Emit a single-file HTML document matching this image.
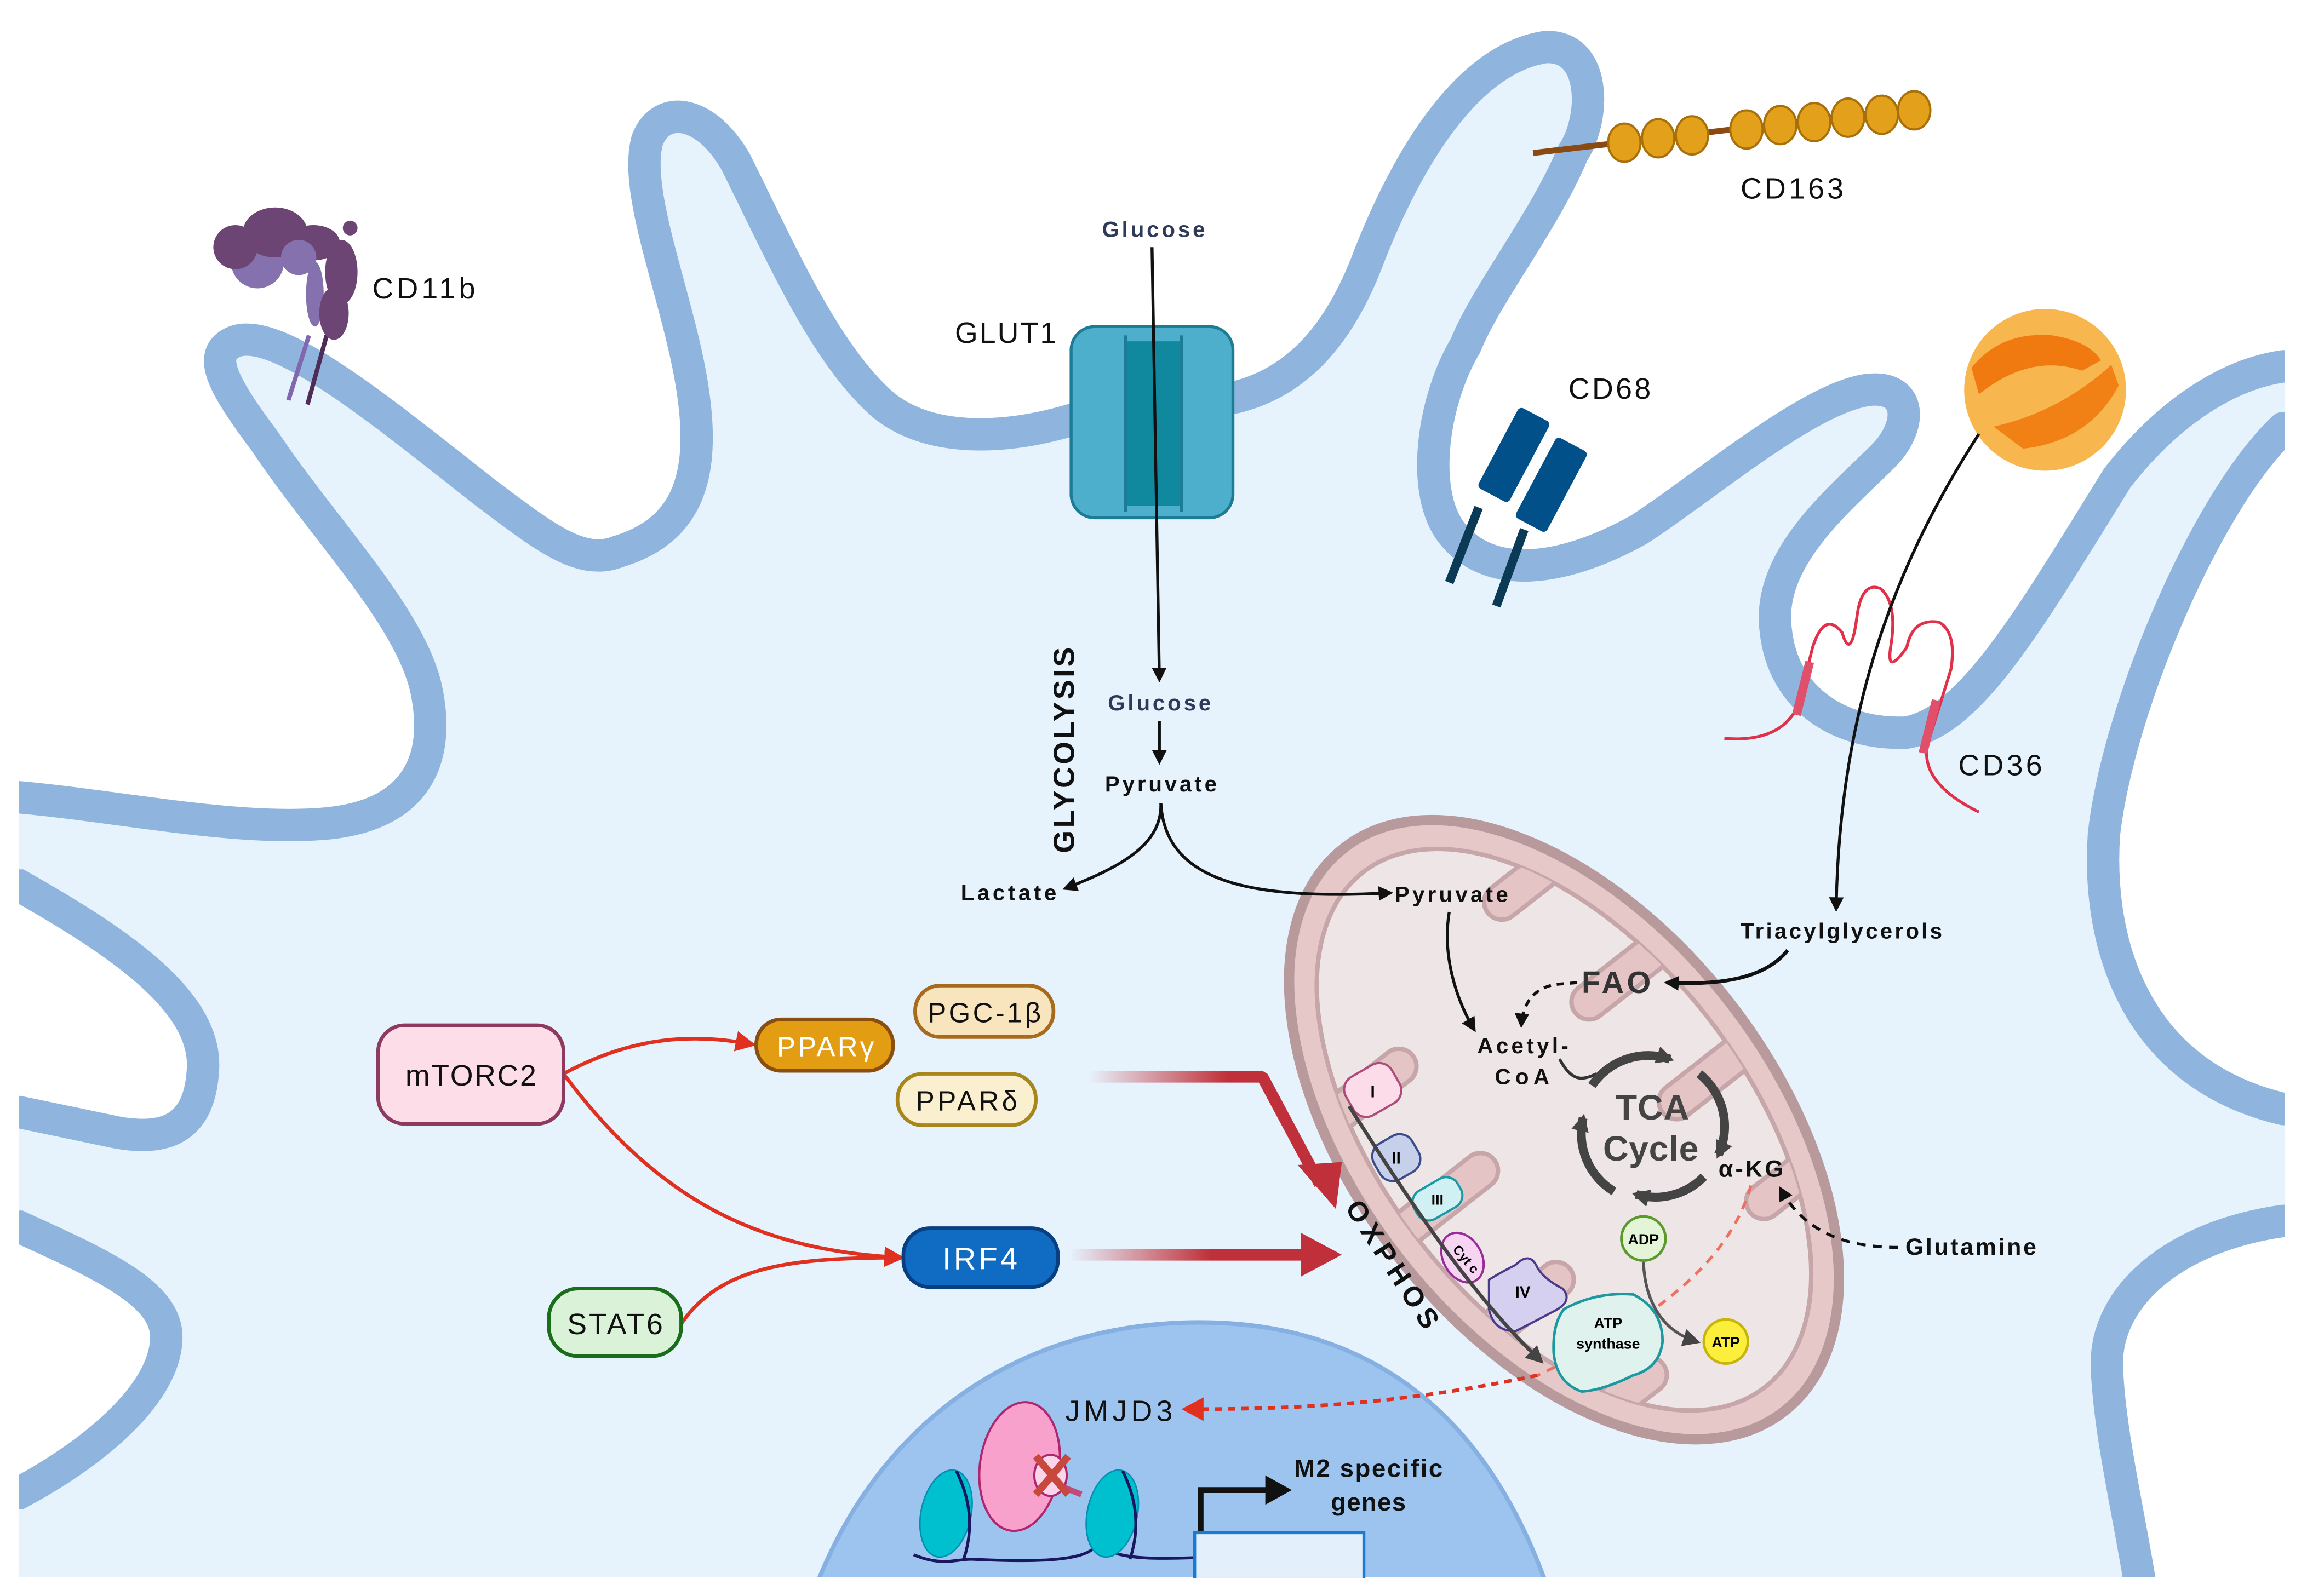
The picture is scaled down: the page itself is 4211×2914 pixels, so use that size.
<!DOCTYPE html>
<html><head><meta charset="utf-8"><style>html,body{margin:0;padding:0;background:#fff}svg{display:block}</style></head>
<body>
<svg width="4211" height="2914" viewBox="0 0 1568 1085" xmlns="http://www.w3.org/2000/svg" font-family="'Liberation Sans', sans-serif">
<defs>
<marker id="ab" markerWidth="10" markerHeight="10" refX="8" refY="5" orient="auto" markerUnits="userSpaceOnUse"><path d="M0,0 L10,5 L0,10 Z" fill="#111"/></marker>
<marker id="ag" markerWidth="12" markerHeight="12" refX="9" refY="6" orient="auto" markerUnits="userSpaceOnUse"><path d="M0,0 L12,6 L0,12 Z" fill="#444"/></marker>
<marker id="ar" markerWidth="14" markerHeight="14" refX="11" refY="7" orient="auto" markerUnits="userSpaceOnUse"><path d="M0,0 L14,7 L0,14 Z" fill="#e03020"/></marker>
<linearGradient id="g1" x1="0" x2="1" y1="0" y2="0"><stop offset="0" stop-color="#c0303a" stop-opacity="0"/><stop offset="0.6" stop-color="#c0303a"/></linearGradient>
<clipPath id="mc"><ellipse cx="0" cy="0" rx="222" ry="124"/></clipPath>
</defs>
<rect x="0" y="0" width="1568" height="1085" fill="#e6f3fd"/>
<path d="M-30,542 L13,542 C80,548 160,565 220,560 C280,555 300,520 290,470 C280,420 220,360 180,300 C150,260 140,240 160,232 C190,222 260,280 330,335 C370,365 395,385 420,375 C470,360 480,320 470,260 C460,200 430,130 440,95 C450,70 480,75 500,110 C530,170 560,240 600,275 C630,300 680,300 730,285 L840,270 C880,260 910,230 931,173 C960,100 1000,40 1050,32 C1085,30 1085,80 1069,104 C1050,150 1010,200 996,235 C975,270 965,330 985,360 C1010,395 1060,390 1114,360 C1160,330 1230,270 1270,265 C1300,262 1300,290 1280,310 C1250,340 1200,380 1207,429 C1212,475 1250,500 1296,498 C1340,490 1380,420 1439,325 C1470,285 1510,255 1552,249 L1620,249 L1620,291 L1552,291 C1500,340 1440,480 1430,567 C1425,640 1450,730 1552,754 L1620,754 L1620,-50 L-30,-50 Z" fill="#fff" stroke="#8fb4de" stroke-width="22" stroke-linejoin="round"/>
<path d="M1620,830 L1552,830 C1480,840 1430,880 1432,930 C1434,980 1450,1040 1458,1100 L1620,1100 Z" fill="#fff" stroke="#8fb4de" stroke-width="22"/>
<path d="M-30,602 L13,602 C80,640 140,680 138,726 C136,770 110,775 80,770 L13,756 L-30,756 Z" fill="#fff" stroke="#8fb4de" stroke-width="22"/>
<path d="M-30,834 L13,834 C70,860 115,880 113,911 C111,950 60,990 13,1015 L-30,1015 Z" fill="#fff" stroke="#8fb4de" stroke-width="22"/>
<path d="M554,1080 C600,960 700,899 815,899 C930,899 1010,960 1052,1080 Z" fill="#9cc4ef" stroke="#86b0e2" stroke-width="3"/>
<rect x="0" y="1072" width="1568" height="20" fill="#fff"/>
<rect x="0" y="0" width="13" height="1085" fill="#fff"/>
<rect x="1553" y="0" width="20" height="1085" fill="#fff"/>

<!-- CD11b -->
<g>
<line x1="210" y1="228" x2="196" y2="272" stroke="#7f68b0" stroke-width="3"/>
<line x1="222" y1="228" x2="209" y2="275" stroke="#4e2c5a" stroke-width="3"/>
<circle cx="175" cy="178" r="18" fill="#8571ae"/>
<circle cx="160" cy="168" r="15" fill="#6c4574"/>
<ellipse cx="187" cy="158" rx="22" ry="17" fill="#6c4574"/>
<ellipse cx="213" cy="165" rx="18" ry="12" fill="#6c4574"/>
<circle cx="203" cy="175" r="12" fill="#8571ae"/>
<ellipse cx="214" cy="200" rx="6" ry="22" fill="#8571ae"/>
<ellipse cx="232" cy="185" rx="11" ry="22" fill="#6c4574"/>
<ellipse cx="227" cy="213" rx="10" ry="18" fill="#6c4574"/>
<circle cx="238" cy="155" r="5" fill="#6c4574"/>
</g>
<text x="253" y="203" font-size="20" fill="#111" textLength="70">CD11b</text>
<text x="649" y="233" font-size="20" fill="#111" textLength="69">GLUT1</text>
<rect x="728" y="222" width="110" height="130" rx="16" fill="#4dafcc" stroke="#1d7c95" stroke-width="2"/>
<rect x="765" y="232" width="38" height="112" fill="#10899e"/>
<line x1="765" y1="228" x2="765" y2="348" stroke="#1d7c95" stroke-width="2"/>
<line x1="803" y1="228" x2="803" y2="348" stroke="#1d7c95" stroke-width="2"/>
<line x1="1042" y1="104" x2="1312" y2="72" stroke="#8b4a12" stroke-width="4"/>
<g fill="#e3a01a" stroke="#a8700a" stroke-width="1.5">
<ellipse cx="1104" cy="97" rx="11" ry="13"/><ellipse cx="1127" cy="94" rx="11" ry="13"/><ellipse cx="1150" cy="92" rx="11" ry="13"/>
<ellipse cx="1187" cy="88" rx="11" ry="13"/><ellipse cx="1210" cy="85" rx="11" ry="13"/><ellipse cx="1233" cy="83" rx="11" ry="13"/><ellipse cx="1256" cy="80" rx="11" ry="13"/><ellipse cx="1279" cy="78" rx="11" ry="13"/><ellipse cx="1301" cy="75" rx="11" ry="13"/>
</g>
<text x="1183" y="135" font-size="20" fill="#111" textLength="70">CD163</text>
<text x="1066" y="271" font-size="20" fill="#111" textLength="56">CD68</text>
<g transform="rotate(28 1030 320)">
<rect x="1012" y="280" width="24" height="62" rx="3" fill="#02508a"/>
<rect x="1044" y="286" width="24" height="62" rx="3" fill="#02508a"/>
</g>
<line x1="1005" y1="345" x2="985" y2="396" stroke="#0a3a55" stroke-width="6"/>
<line x1="1036" y1="360" x2="1017" y2="412" stroke="#0a3a55" stroke-width="6"/>
<circle cx="1390" cy="265" r="55" fill="#f7b64e"/>
<path d="M1340,250 Q1360,225 1395,228 Q1420,232 1428,245 L1415,252 Q1380,240 1345,268 Z" fill="#f07a10"/>
<path d="M1355,290 Q1400,280 1435,248 L1440,262 Q1420,300 1375,305 Z" fill="#f07a10" opacity="0.9"/>
<g fill="none" stroke="#e0304a" stroke-width="2">
<path d="M1172,502 Q1210,505 1222,480 L1232,440 Q1240,415 1252,430 Q1258,450 1262,420 Q1265,395 1278,400 Q1290,410 1285,440 Q1282,460 1296,440 Q1300,420 1318,423 Q1330,430 1326,455 L1312,500 Q1300,530 1345,552"/>
</g>
<line x1="1230" y1="450" x2="1221" y2="486" stroke="#e0506a" stroke-width="6"/>
<line x1="1316" y1="476" x2="1307" y2="512" stroke="#e0506a" stroke-width="6"/>
<text x="1331" y="527" font-size="20" fill="#111" textLength="57">CD36</text>

<text x="749" y="161" font-size="15" font-weight="bold" fill="#2f3a5a" textLength="70">Glucose</text>
<line x1="783" y1="168" x2="788" y2="462" stroke="#111" stroke-width="2" marker-end="url(#ab)"/>
<text x="753" y="483" font-size="15" font-weight="bold" fill="#2f3a5a" textLength="70">Glucose</text>
<line x1="788" y1="490" x2="788" y2="518" stroke="#111" stroke-width="2" marker-end="url(#ab)"/>
<text x="751" y="538" font-size="15" font-weight="bold" fill="#111" textLength="76">Pyruvate</text>
<text transform="translate(730 510) rotate(-90)" text-anchor="middle" font-size="20" font-weight="bold" fill="#111" textLength="140">GLYCOLYSIS</text>
<path d="M789,546 C790,575 760,590 724,604" fill="none" stroke="#111" stroke-width="2" marker-end="url(#ab)"/>
<text x="653" y="612" font-size="15" font-weight="bold" fill="#111" textLength="65">Lactate</text>

<!-- mitochondrion -->
<g transform="translate(1063 768) rotate(52)">
<ellipse cx="0" cy="0" rx="243" ry="142" fill="#e6c8c8" stroke="#b89a9c" stroke-width="7"/>
<ellipse cx="0" cy="0" rx="222" ry="124" fill="#eee5e7" stroke="#c6a6a8" stroke-width="3"/>
<g clip-path="url(#mc)" fill="#e4c4c5" stroke="#c6a6a8" stroke-width="3">
<rect x="-160" y="-150" width="24" height="100" rx="12"/>
<rect x="-70" y="-150" width="24" height="95" rx="12"/>
<rect x="20" y="-150" width="24" height="90" rx="12"/>
<rect x="110" y="-150" width="24" height="85" rx="12"/>
<rect x="-115" y="50" width="24" height="100" rx="12"/>
<rect x="-25" y="50" width="24" height="100" rx="12"/>
<rect x="65" y="55" width="24" height="95" rx="12"/>
<rect x="155" y="45" width="24" height="90" rx="12"/>
</g>
</g>
<path d="M789,546 C792,600 850,612 945,607" fill="none" stroke="#111" stroke-width="2" marker-end="url(#ab)"/>
<text x="948" y="613" font-size="15" font-weight="bold" fill="#111" textLength="77">Pyruvate</text>
<path d="M985,620 C980,650 990,680 1002,700" fill="none" stroke="#111" stroke-width="2" marker-end="url(#ab)"/>
<text x="1183" y="638" font-size="15" font-weight="bold" fill="#111" textLength="137">Triacylglycerols</text>
<path d="M1345,295 C1290,380 1250,480 1248,618" fill="none" stroke="#111" stroke-width="2" marker-end="url(#ab)"/>
<path d="M1215,646 C1200,665 1170,670 1133,668" fill="none" stroke="#111" stroke-width="2.5" marker-end="url(#ab)"/>
<text x="1075" y="675" font-size="21" font-weight="bold" fill="#333" textLength="47">FAO</text>
<path d="M1072,668 L1060,669 C1045,670 1035,680 1034,697" fill="none" stroke="#111" stroke-width="2" stroke-dasharray="5,4" marker-end="url(#ab)"/>
<text x="1004" y="716" font-size="15" font-weight="bold" fill="#111" textLength="62">Acetyl-</text>
<text x="1016" y="737" font-size="15" font-weight="bold" fill="#111" textLength="37">CoA</text>
<path d="M1060,720 C1068,735 1075,735 1085,730" fill="none" stroke="#333" stroke-width="2"/>
<g fill="none" stroke="#444" stroke-width="6">
<path d="M1082,738 A46,46 0 0 1 1135,720" marker-end="url(#ag)"/>
<path d="M1155,730 A46,46 0 0 1 1168,785" marker-end="url(#ag)"/>
<path d="M1158,800 A46,46 0 0 1 1112,812" marker-end="url(#ag)"/>
<path d="M1097,810 A46,46 0 0 1 1076,760" marker-end="url(#ag)"/>
</g>
<text x="1123" y="761" text-anchor="middle" font-size="24" font-weight="bold" fill="#444" textLength="50">TCA</text>
<text x="1122" y="789" text-anchor="middle" font-size="24" font-weight="bold" fill="#444" textLength="65">Cycle</text>
<text x="1168" y="800" font-size="16" font-weight="bold" fill="#111" textLength="44">α-KG</text>
<path d="M1290,848 C1250,848 1225,835 1210,808" fill="none" stroke="#111" stroke-width="2" stroke-dasharray="6,5" marker-end="url(#ab)"/>
<text x="1295" y="853" font-size="16" font-weight="bold" fill="#111" textLength="89">Glutamine</text>
<path d="M1190,806 C1175,860 1120,900 1045,935" fill="none" stroke="#f07060" stroke-width="2" stroke-dasharray="6,5"/>
<g transform="rotate(-30 933 741)"><rect x="915" y="726" width="36" height="30" rx="10" fill="#fcdce8" stroke="#b04a7a" stroke-width="1.5"/></g>
<text x="933" y="746" text-anchor="middle" font-size="11" font-weight="bold">I</text>
<g transform="rotate(-30 949 787)"><rect x="934" y="773" width="30" height="28" rx="10" fill="#c6d0ea" stroke="#3a4c8a" stroke-width="1.5"/></g>
<text x="949" y="791" text-anchor="middle" font-size="11" font-weight="bold">II</text>
<g transform="rotate(-30 977 815)"><rect x="960" y="804" width="34" height="22" rx="9" fill="#d0f0f4" stroke="#169aa8" stroke-width="1.5"/></g>
<text x="977" y="819" text-anchor="middle" font-size="10" font-weight="bold">III</text>
<ellipse cx="994" cy="855" rx="13" ry="18" transform="rotate(-30 994 855)" fill="#f6d4f2" stroke="#9a2a9a" stroke-width="1.5"/>
<text transform="translate(994 858) rotate(50)" text-anchor="middle" font-size="9" font-weight="bold">Cyt c</text>
<path d="M1012,870 Q1020,865 1030,860 Q1040,850 1045,862 Q1050,870 1062,876 Q1070,885 1055,892 Q1040,900 1030,905 Q1015,905 1012,890 Z" fill="#d6d0f0" stroke="#4a3a8a" stroke-width="1.5"/>
<text x="1035" y="882" text-anchor="middle" font-size="11" font-weight="bold">IV</text>
<path d="M917,752 C960,820 1000,880 1047,925" fill="none" stroke="#444" stroke-width="2.5" marker-end="url(#ag)"/>
<path d="M1063,890 Q1085,878 1110,880 Q1130,890 1130,912 Q1128,930 1110,935 Q1090,945 1075,946 Q1058,940 1056,920 Q1055,900 1063,890 Z" fill="#dff2ee" stroke="#1a9aa0" stroke-width="1.8"/>
<text x="1093" y="903" text-anchor="middle" font-size="10" font-weight="bold">ATP</text>
<text x="1093" y="917" text-anchor="middle" font-size="10" font-weight="bold">synthase</text>
<path d="M1117,858 C1118,885 1130,905 1153,912" fill="none" stroke="#555" stroke-width="2" marker-end="url(#ag)"/>
<circle cx="1117" cy="842" r="15" fill="#e3f5d6" stroke="#5a9a2a" stroke-width="1.8"/>
<text x="1117" y="846" text-anchor="middle" font-size="10" font-weight="bold">ADP</text>
<circle cx="1173" cy="912" r="15" fill="#fbef3c" stroke="#c8b40a" stroke-width="1.8"/>
<text x="1173" y="916" text-anchor="middle" font-size="10" font-weight="bold">ATP</text>
<text transform="translate(941 863) rotate(57)" text-anchor="middle" font-size="19" font-weight="bold" fill="#111" textLength="100">OXPHOS</text>

<path d="M383,730 C420,710 460,700 511,710" fill="none" stroke="#e03020" stroke-width="2.5" marker-end="url(#ar)"/>
<path d="M383,730 C450,820 520,850 612,855" fill="none" stroke="#e03020" stroke-width="2.5" marker-end="url(#ar)"/>
<path d="M463,900 C490,860 540,855 612,855" fill="none" stroke="#e03020" stroke-width="2.5"/>
<rect x="257" y="697" width="126" height="67" rx="18" fill="#fcdde8" stroke="#8e3a5f" stroke-width="2.5"/>
<text x="320" y="738" text-anchor="middle" font-size="20" fill="#111" textLength="89">mTORC2</text>
<rect x="514" y="693" width="93" height="35" rx="17" fill="#e39d12" stroke="#8a4e10" stroke-width="2.5"/>
<text x="561" y="718" text-anchor="middle" font-size="19" fill="#fff" textLength="66">PPARγ</text>
<rect x="622" y="670" width="94" height="35" rx="17" fill="#f8e4bd" stroke="#a86a1c" stroke-width="2.5"/>
<text x="669" y="695" text-anchor="middle" font-size="19" fill="#111" textLength="77">PGC-1β</text>
<rect x="610" y="730" width="94" height="35" rx="17" fill="#faf0cf" stroke="#a8861c" stroke-width="2.5"/>
<text x="657" y="755" text-anchor="middle" font-size="19" fill="#111" textLength="69">PPARδ</text>
<rect x="614" y="835" width="105" height="40" rx="18" fill="#0f6cc2" stroke="#083f80" stroke-width="2.5"/>
<text x="666" y="863" text-anchor="middle" font-size="21" fill="#fff" textLength="51">IRF4</text>
<rect x="373" y="876" width="90" height="46" rx="20" fill="#d9f2d8" stroke="#1a6e1a" stroke-width="2.5"/>
<text x="418" y="907" text-anchor="middle" font-size="20" fill="#111" textLength="65">STAT6</text>
<path d="M740,732 L858,732 L897,805" fill="none" stroke="url(#g1)" stroke-width="8" stroke-linejoin="bevel"/>
<path d="M882,792 L908,822 L912,790 Z" fill="#c0303a"/>
<rect x="727" y="849" width="160" height="8" fill="url(#g1)"/>
<path d="M884,838 L912,853 L884,868 Z" fill="#c0303a"/>

<path d="M1045,935 C950,955 880,958 808,958" fill="none" stroke="#e03020" stroke-width="2.5" stroke-dasharray="5,4"/>
<path d="M803,958 L818,950 L818,966 Z" fill="#e03020"/>
<text x="724" y="966" font-size="20" fill="#111" textLength="73">JMJD3</text>
<path d="M621,1057 C640,1065 650,1060 660,1060 C700,1062 740,1062 745,1050 C760,1060 780,1060 812,1059" fill="none" stroke="#1a1660" stroke-width="2"/>
<ellipse cx="643" cy="1029" rx="17" ry="30" transform="rotate(12 643 1029)" fill="#00c0d0" stroke="#0090b0" stroke-width="1"/>
<path d="M650,1000 Q665,1030 655,1060" fill="none" stroke="#1a1660" stroke-width="2"/>
<ellipse cx="756" cy="1029" rx="17" ry="30" transform="rotate(12 756 1029)" fill="#00c0d0" stroke="#0090b0" stroke-width="1"/>
<path d="M763,1000 Q778,1030 768,1060" fill="none" stroke="#1a1660" stroke-width="2"/>
<ellipse cx="693" cy="997" rx="27" ry="44" transform="rotate(8 693 997)" fill="#f7a1cc" stroke="#b0256f" stroke-width="1.5"/>
<line x1="720" y1="1010" x2="735" y2="1016" stroke="#c24a7a" stroke-width="4"/>
<ellipse cx="714" cy="1003" rx="11" ry="14" fill="#fbd6ea" stroke="#b0256f" stroke-width="1.5"/>
<path d="M704,990 L726,1016 M726,990 L704,1016" stroke="#c8483e" stroke-width="5"/>
<path d="M816,1041 L816,1013 L862,1013" fill="none" stroke="#111" stroke-width="4"/>
<path d="M860,1003 L878,1013 L860,1023 Z" fill="#111"/>
<text x="930" y="1004" text-anchor="middle" font-size="17" font-weight="bold" fill="#111" textLength="101">M2 specific</text>
<text x="930" y="1027" text-anchor="middle" font-size="17" font-weight="bold" fill="#111" textLength="51">genes</text>
<rect x="812" y="1042" width="115" height="32" fill="#e3f0fc" stroke="#1a7ad4" stroke-width="2"/>
<rect x="0" y="1073" width="1568" height="12" fill="#fff"/>
</svg>
</body></html>
